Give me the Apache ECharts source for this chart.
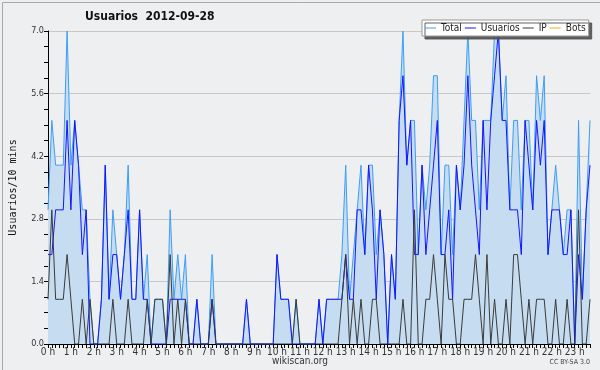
<!DOCTYPE html>
<html>
<head>
<meta charset="utf-8">
<script src="https://cdn.jsdelivr.net/npm/echarts@6/dist/echarts.min.js"></script>
<style>
html,body{margin:0;padding:0;background:#eeeff0;}
#chart{width:600px;height:370px;}
</style>
</head>
<body>
<div id="chart"></div>
<script>
// 10-minute slots, 00:00 .. 23:40
const hourLabels = ['0 h','1 h','2 h','3 h','4 h','5 h','6 h','7 h','8 h','9 h','10 h','11 h','12 h','13 h','14 h','15 h','16 h','17 h','18 h','19 h','20 h','21 h','22 h','23 h'];
const yTicks = [0, 1.4, 2.8, 4.2, 5.6, 7.0];

const total = [
  3,5,4,4,4,7,4,5,4,3,
  3,1,0,0,1,4,1,3,2,1,
  2,4,1,1,3,1,2,0,1,1,
  1,0,3,1,2,1,2,0,0,1,
  0,0,0,2,0,0,0,0,0,0,
  0,0,1,0,0,0,0,0,0,0,
  2,1,1,1,0,1,0,0,0,0,
  0,1,0,1,1,1,1,2,4,1,
  2,3,4,2,4,4,2,3,2,0,
  2,1,5,7,4,5,5,2,4,3,
  4,6,6,2,4,4,2,4,3,5,
  7,5,5,3,5,5,5,7,7,5,
  6,3,5,5,3,5,5,3,6,5,
  6,2,3,4,3,2,3,3,0,5,
  1,3,5
];
const usuarios = [
  2,2,3,3,3,5,3,5,4,2,
  3,0,0,0,1,4,1,2,2,1,
  2,3,1,1,3,1,1,0,0,0,
  0,0,1,1,1,1,1,0,0,1,
  0,0,0,1,0,0,0,0,0,0,
  0,0,1,0,0,0,0,0,0,0,
  2,1,1,1,0,0,0,0,0,0,
  0,1,0,1,1,1,1,1,2,1,
  1,3,3,2,4,3,1,3,2,0,
  2,1,5,6,4,5,2,2,4,2,
  3,4,5,2,2,3,1,4,3,4,
  6,4,3,2,5,3,5,6,7,5,
  5,3,3,3,2,5,4,3,5,4,
  5,2,3,3,3,2,2,3,0,2,
  1,3,4
];
const ip = [
  1,3,1,1,1,2,1,0,0,1,
  0,1,0,0,0,0,0,1,0,0,
  0,1,0,0,0,0,1,0,1,1,
  1,0,2,0,1,0,1,0,0,0,
  0,0,0,1,0,0,0,0,0,0,
  0,0,0,0,0,0,0,0,0,0,
  0,0,0,0,0,1,0,0,0,0,
  0,0,0,0,0,0,0,1,2,0,
  1,0,1,0,0,1,1,0,0,0,
  0,0,0,1,0,0,3,0,0,1,
  1,2,1,0,2,1,1,0,0,1,
  1,1,2,1,0,2,0,1,0,0,
  1,0,2,2,1,0,1,0,1,1,
  1,0,0,1,0,0,1,0,0,3,
  0,0,1
];
const bots = [];

const slots = [];
for (let i = 0; i < total.length; i++) {
  const h = Math.floor(i / 6), m = (i % 6) * 10;
  slots.push(h + ':' + (m < 10 ? '0' + m : m));
}

const FONT = '"DejaVu Sans Condensed", "DejaVu Sans", sans-serif';
const chart = echarts.init(document.getElementById('chart'), null, {renderer: 'canvas'});
chart.setOption({
  backgroundColor: '#eeeff0',
  animation: false,
  title: {
    text: 'Usuarios  2012-09-28',
    left: 85, top: 11, padding: 0,
    textStyle: {fontFamily: FONT, fontSize: 12, fontWeight: 'bold', color: '#111'}
  },
  legend: {
    left: 422, top: 20, width: 178,
    orient: 'horizontal',
    padding: [3, 3, 3, 3],
    itemGap: 3, itemWidth: 11, itemHeight: 1,
    icon: 'rect',
    backgroundColor: '#ffffff',
    borderColor: '#999999', borderWidth: 1,
    shadowColor: 'rgba(80,80,80,0.9)', shadowOffsetX: 3, shadowOffsetY: 3, shadowBlur: 0,
    textStyle: {fontFamily: FONT, fontSize: 10, color: '#222'},
    data: ['Total', 'Usuarios', 'IP', 'Bots']
  },
  grid: {left: 47, right: 10, top: 31, bottom: 26, show: false},
  xAxis: {
    type: 'category',
    data: slots,
    boundaryGap: false,
    axisLine: {lineStyle: {color: '#000', width: 1}},
    axisTick: {show: true, interval: 0, length: 4, lineStyle: {color: '#000'}},
    axisLabel: {
      interval: 5, margin: 3,
      fontFamily: FONT, fontSize: 10, color: '#333',
      formatter: (v, idx) => hourLabels[Math.floor(idx / 6)]
    },
    splitLine: {show: false}
  },
  yAxis: {
    type: 'value',
    min: 0, max: 7, interval: 1.4,
    name: 'Usuarios/10 mins',
    nameLocation: 'middle', nameGap: 30, nameRotate: 90,
    nameTextStyle: {fontFamily: '"DejaVu Sans Mono", monospace', fontSize: 10, color: '#111'},
    axisLine: {show: true, lineStyle: {color: '#000', width: 1}},
    axisTick: {show: true, length: 4, lineStyle: {color: '#000'}},
    minorTick: {show: true, splitNumber: 4, length: 4, lineStyle: {color: '#000'}},
    axisLabel: {
      margin: 4, fontFamily: FONT, fontSize: 9, color: '#333',
      formatter: v => v.toFixed(1)
    },
    splitLine: {show: true, lineStyle: {color: '#c8c8c8', width: 1}}
  },
  series: [
    {
      name: 'Total', type: 'line', data: total, symbol: 'none',
      lineStyle: {color: '#3d9df5', width: 1}, itemStyle: {color: '#3d9df5'},
      areaStyle: {color: '#c6dcf0', opacity: 1}, z: 2
    },
    {
      name: 'Usuarios', type: 'line', data: usuarios, symbol: 'none',
      lineStyle: {color: '#1414ff', width: 1}, itemStyle: {color: '#1414ff'}, z: 3
    },
    {
      name: 'IP', type: 'line', data: ip, symbol: 'none',
      lineStyle: {color: '#3a3a3a', width: 1}, itemStyle: {color: '#3a3a3a'}, z: 4
    },
    {
      name: 'Bots', type: 'line', data: bots, symbol: 'none',
      lineStyle: {color: '#ffa31a', width: 1}, itemStyle: {color: '#ffa31a'}, z: 1
    }
  ],
  graphic: [
    {type: 'rect', left: 0, top: 0, silent: true,
     shape: {x: 0.5, y: 0.5, width: 599, height: 369},
     style: {fill: null, stroke: '#a8a8a8', lineWidth: 1}},
    {type: 'text', left: 'center', top: 356,
     style: {text: 'wikiscan.org', font: '10px ' + FONT, fill: '#333'}},
    {type: 'text', right: 10, top: 359,
     style: {text: 'CC BY-SA 3.0', font: '7px ' + FONT, fill: '#444'}}
  ]
});
</script>
</body>
</html>
